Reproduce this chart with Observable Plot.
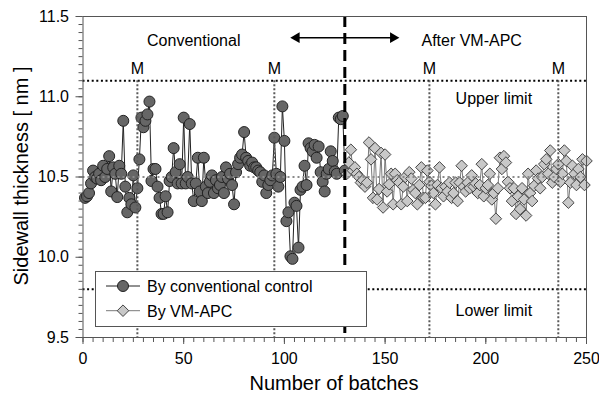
<!DOCTYPE html>
<html><head><meta charset="utf-8">
<script src="https://cdn.jsdelivr.net/npm/d3@7"></script>
<script src="https://cdn.jsdelivr.net/npm/@observablehq/plot@0.6"></script>
<style>
body{margin:0;background:#fff;}
#wrap{position:relative;width:599px;height:394px;font-family:"Liberation Sans",Arial,sans-serif;}
#legend{position:absolute;left:95px;top:271px;width:272px;height:56px;box-sizing:border-box;border:1px solid #555;background:#fff;}
#legend svg{display:block;}
</style></head><body><div id="wrap"></div>
<script>
// Conventional control: batches 1..130
const conventional = [
10.37,10.38,10.40,10.46,10.54,10.50,10.49,10.52,10.48,10.57,
10.50,10.55,10.63,10.41,10.56,10.52,10.375,10.57,10.52,10.85,
10.44,10.28,10.37,10.33,10.51,10.31,10.43,10.61,10.87,10.81,
10.85,10.89,10.97,10.475,10.55,10.55,10.44,10.37,10.27,10.27,
10.38,10.28,10.475,10.50,10.68,10.53,10.46,10.58,10.46,10.87,
10.46,10.50,10.83,10.46,10.35,10.46,10.62,10.41,10.35,10.62,
10.44,10.40,10.47,10.51,10.40,10.48,10.43,10.45,10.50,10.40,
10.56,10.49,10.52,10.45,10.33,10.53,10.58,10.62,10.64,10.78,
10.62,10.60,10.57,10.59,10.56,10.56,10.54,10.53,10.47,10.51,
10.40,10.45,10.48,10.51,10.745,10.52,10.44,10.50,10.94,10.725,
10.225,10.28,10.006,9.99,10.34,10.32,10.06,10.42,10.44,10.57,
10.45,10.71,10.68,10.66,10.70,10.62,10.69,10.53,10.47,10.41,
10.52,10.55,10.66,10.60,10.535,10.52,10.87,10.86,10.88,10.54
];
// VM-APC: batches 131..250
const vmApc = [
10.52,10.59,10.67,10.54,10.56,10.52,10.50,10.465,10.48,10.44,
10.465,10.715,10.61,10.37,10.68,10.36,10.425,10.65,10.31,10.64,
10.41,10.455,10.52,10.33,10.52,10.48,10.465,10.33,10.44,10.50,
10.35,10.53,10.49,10.42,10.40,10.33,10.45,10.56,10.37,10.37,
10.54,10.47,10.445,10.40,10.33,10.45,10.56,10.43,10.38,10.44,
10.41,10.465,10.37,10.40,10.465,10.35,10.465,10.57,10.44,10.41,
10.465,10.43,10.51,10.44,10.46,10.40,10.45,10.58,10.38,10.43,
10.45,10.52,10.36,10.40,10.24,10.43,10.62,10.55,10.63,10.59,
10.47,10.43,10.35,10.43,10.27,10.38,10.30,10.43,10.36,10.26,
10.52,10.40,10.35,10.445,10.54,10.49,10.43,10.50,10.58,10.61,
10.52,10.665,10.465,10.50,10.55,10.58,10.47,10.52,10.665,10.60,
10.34,10.465,10.57,10.52,10.45,10.55,10.50,10.61,10.45,10.60
];
const convStart = 1;
const vmStart = 131;
const maintenance = [27, 95, 172, 236];   // "M" events
const switchBatch = 130;                   // start of VM-APC
const upperLimit = 11.1, lowerLimit = 9.8, target = 10.5;
const xTicks = [0, 50, 100, 150, 200, 250];
const yTicks = [9.5, 10.0, 10.5, 11.0, 11.5];
const legendLabels = ["By conventional control", "By VM-APC"];

const convData = conventional.map((v, i) => ({batch: convStart + i, value: v}));
const vmData = vmApc.map((v, i) => ({batch: vmStart + i, value: v}));
const xMinor = d3.range(0, 251, 5);
const yMinor = d3.range(190, 231).map(d => d / 20);

const font = "Liberation Sans, Arial, sans-serif";
const chart = Plot.plot({
  width: 599, height: 394,
  marginLeft: 82.5, marginRight: 13, marginTop: 16, marginBottom: 57,
  style: {fontFamily: font, fontSize: "16px", background: "#fff", color: "#000", overflow: "visible"},
  x: {domain: [0, 250]},
  y: {domain: [9.5, 11.5]},
  marks: [
    Plot.ruleY([upperLimit, lowerLimit], {stroke: "#000", strokeWidth: 2, strokeDasharray: "2,2.6"}),
    Plot.lineY(convData, {x: "batch", y: "value", stroke: "#222", strokeWidth: 1}),
    Plot.dot(convData, {x: "batch", y: "value", r: 5.5, symbol: "circle", fill: "#666", stroke: "#222", strokeWidth: 1}),
    Plot.lineY(vmData, {x: "batch", y: "value", stroke: "#7a7a7a", strokeWidth: 1}),
    Plot.dot(vmData, {x: "batch", y: "value", r: 5.2, symbol: "diamond2", fill: "#c8c8c8", stroke: "#444", strokeWidth: 1}),
    Plot.ruleY([target], {stroke: "#8a8a8a", strokeWidth: 2, strokeDasharray: "2,3"}),
    Plot.ruleX(maintenance, {y1: upperLimit, y2: 9.5, stroke: "#5a5a5a", strokeWidth: 2, strokeDasharray: "2,2"}),
    Plot.ruleX([switchBatch], {stroke: "#000", strokeWidth: 3, strokeDasharray: "11,6"}),
    Plot.text(maintenance, {x: d => d, y: 11.174, text: () => "M", fontSize: 16, fill: "#000"}),
    Plot.text(["Conventional"], {x: 55, y: 11.35, text: d => d, fontSize: 16}),
    Plot.text(["After VM-APC"], {x: 193, y: 11.35, text: d => d, fontSize: 16}),
    Plot.text(["Upper limit"], {x: 204, y: 10.987, text: d => d, fontSize: 16}),
    Plot.text(["Lower limit"], {x: 204, y: 9.665, text: d => d, fontSize: 16}),
    Plot.link([0], {x1: 106, x2: 154, y1: 11.368, y2: 11.368, stroke: "#000", strokeWidth: 1.5}),
    Plot.dot([{b: 106, rot: -90}, {b: 154, rot: 90}], {x: "b", y: 11.368, rotate: "rot", symbol: "triangle", r: 4, fill: "#000", stroke: "none"}),
    Plot.axisX({ticks: xMinor, tickSize: 5, tickFormat: () => "", stroke: "#555", label: null}),
    Plot.axisX({ticks: xTicks, tickSize: 7, tickPadding: 8, stroke: "#555", fill: "#000", fontSize: 16, label: null}),
    Plot.axisY({ticks: yMinor, tickSize: 4, tickFormat: () => "", stroke: "#555", label: null}),
    Plot.axisY({ticks: yTicks, tickSize: 7, tickPadding: 7, tickFormat: d3.format(".1f"), stroke: "#555", fill: "#000", fontSize: 16, label: null}),
    Plot.frame({stroke: "#555"})
  ]
});
const wrap = d3.select("#wrap");
wrap.node().appendChild(chart);
const svg = d3.select(chart);
svg.append("text").attr("transform", "translate(28,176) rotate(-90)").attr("text-anchor", "middle")
  .attr("font-size", 20).attr("font-family", font).attr("fill", "#000").text("Sidewall thickness [ nm ]");
svg.append("text").attr("x", 334).attr("y", 390).attr("text-anchor", "middle")
  .attr("font-size", 20).attr("font-family", font).attr("fill", "#000").text("Number of batches");

// legend
const lg = wrap.append("div").attr("id", "legend").append("svg").attr("width", 270).attr("height", 54);
const rows = [14, 38.7];
// row 1
lg.append("line").attr("x1", 10).attr("x2", 44).attr("y1", rows[0]).attr("y2", rows[0]).attr("stroke", "#222");
lg.append("circle").attr("cx", 27).attr("cy", rows[0]).attr("r", 5.5).attr("fill", "#666").attr("stroke", "#222");
// row 2
lg.append("line").attr("x1", 10).attr("x2", 44).attr("y1", rows[1]).attr("y2", rows[1]).attr("stroke", "#7a7a7a");
lg.append("path").attr("d", d3.symbol(d3.symbolDiamond2, Math.PI * 5.2 * 5.2)()).attr("transform", `translate(27,${rows[1]})`)
  .attr("fill", "#c8c8c8").attr("stroke", "#444");
legendLabels.forEach((t, i) => {
  lg.append("text").attr("x", 51).attr("y", rows[i] + 5.8).attr("font-size", 16).attr("font-family", font).attr("fill", "#000").text(t);
});
</script>
</body></html>
